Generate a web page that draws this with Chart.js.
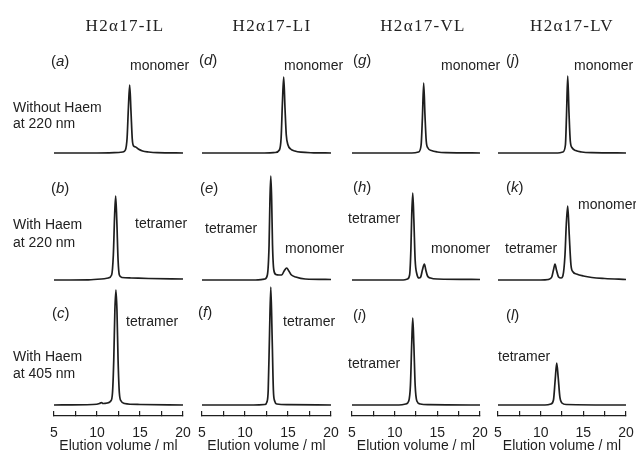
<!DOCTYPE html>
<html><head><meta charset="utf-8">
<script src="https://cdn.jsdelivr.net/npm/chart.js@4/dist/chart.umd.min.js"></script>
<style>
html,body{margin:0;padding:0;background:#fff;}
#fig{position:relative;width:636px;height:456px;overflow:hidden;background:#fff;font-family:"Liberation Sans",Arial,sans-serif;color:#222;}
#fig canvas{position:absolute;}
.t{position:absolute;white-space:nowrap;font-size:14px;line-height:16px;transform:translateY(-50%);}
.ct{font-family:"Liberation Serif",serif;font-size:17px;letter-spacing:1.3px;transform:translate(-50%,-50%);}
.pl{font-size:15px;}
</style></head><body><div id="fig"></div>
<script>
// ---------- text ----------
const columnTitles = ['H2α17-IL', 'H2α17-LI', 'H2α17-VL', 'H2α17-LV'];
const rowLabels = [['Without Haem', 'at 220 nm'], ['With Haem', 'at 220 nm'], ['With Haem', 'at 405 nm']];
const panelLetters = [['a', 'b', 'c'], ['d', 'e', 'f'], ['g', 'h', 'i'], ['j', 'k', 'l']];
const xAxisTitle = 'Elution volume / ml';
const xTickLabels = [5, 10, 15, 20];

// ---------- data: elution volume (ml) / absorbance (arb.) ----------
const volA = [5, 10, 12, 13.0, 13.3, 13.5, 13.65, 13.8, 13.95, 14.1, 14.25, 14.5, 14.8, 15.3, 16, 17, 20];
const absA = [0, 0, 0.3, 1, 3, 15, 45, 68, 42, 14, 7, 6, 4, 2, 1, 0.3, 0];
const volB = [5, 9, 10.5, 11.3, 11.7, 11.9, 12.05, 12.17, 12.3, 12.45, 12.6, 12.9, 14, 16, 20];
const absB = [0, 0.2, 1, 2, 5, 25, 65, 84, 60, 20, 5, 2.5, 2, 1.5, 1];
const volC = [5, 9.5, 10.3, 10.5, 10.7, 11.2, 11.6, 11.8, 11.95, 12.08, 12.2, 12.32, 12.45, 12.6, 12.8, 13.2, 15, 20];
const absC = [0, 0.5, 1.5, 2.5, 1.5, 2, 4, 12, 45, 95, 115, 95, 45, 12, 4, 1.5, 0.5, 0];
const volD = [5, 12, 13.5, 14.0, 14.2, 14.35, 14.5, 14.65, 14.8, 15.0, 15.3, 15.8, 16.5, 18, 20];
const absD = [0, 0, 0.5, 3, 15, 50, 76, 45, 18, 8, 4, 2, 0.8, 0.2, 0];
const volE = [5, 11, 12.3, 12.6, 12.8, 12.9, 13.0, 13.1, 13.2, 13.35, 13.6, 13.95, 14.27, 14.55, 14.85, 15.1, 15.4, 15.9, 17, 20];
const absE = [0, 0, 1, 5, 35, 80, 104, 80, 35, 10, 5.5, 5, 5, 9, 12, 9, 5, 3, 1, 0.5];
const volF = [5, 11, 12.3, 12.55, 12.7, 12.85, 13.0, 13.15, 13.3, 13.45, 13.7, 15, 20];
const absF = [0, 0, 0.5, 3, 15, 70, 118, 70, 15, 4, 1, 0.3, 0];
const volG = [5, 12, 12.8, 13.1, 13.25, 13.4, 13.55, 13.7, 13.9, 14.3, 15, 16, 20];
const absG = [0, 0, 1, 8, 35, 70, 38, 12, 5, 2.5, 1, 0.3, 0];
const volH = [5, 11, 11.5, 11.75, 11.9, 12.0, 12.12, 12.25, 12.4, 12.6, 12.85, 13.05, 13.25, 13.48, 13.65, 13.85, 14.2, 15, 20];
const absH = [0, 0, 1, 5, 30, 65, 87, 60, 20, 6, 2, 3, 10, 16, 10, 4, 2, 1, 0.5];
const volI = [5, 10.5, 11.3, 11.65, 11.85, 12.0, 12.12, 12.25, 12.4, 12.6, 13, 14, 20];
const absI = [0, 0, 1, 4, 20, 62, 87, 60, 20, 4, 1, 0.3, 0];
const volJ = [5, 12, 12.6, 12.9, 13.03, 13.17, 13.32, 13.47, 13.7, 14.1, 14.8, 16, 20];
const absJ = [0, 0, 1, 8, 38, 77, 40, 12, 5, 2.5, 1, 0.3, 0];
const volK = [5, 10, 10.9, 11.3, 11.5, 11.68, 11.85, 12.1, 12.4, 12.6, 12.85, 13.0, 13.17, 13.35, 13.55, 13.8, 14.2, 15, 16, 17.5, 20];
const absK = [0, 0, 0.5, 3, 10, 16, 10, 3, 2, 4, 25, 55, 74, 45, 15, 8, 6, 4, 2.5, 1.5, 0.5];
const volL = [5, 10.5, 11.2, 11.5, 11.7, 11.88, 12.05, 12.25, 12.5, 13, 20];
const absL = [0, 0, 1, 5, 25, 42, 28, 8, 2, 0.5, 0];

const panelData = [
  [[volA, absA], [volB, absB], [volC, absC]],
  [[volD, absD], [volE, absE], [volF, absF]],
  [[volG, absG], [volH, absH], [volI, absI]],
  [[volJ, absJ], [volK, absK], [volL, absL]]
];

// ---------- layout ----------
const fig = document.getElementById('fig');
const colLeft = [54, 202, 352, 498];
const colWidth = [129, 129, 128, 128];
const baseY = [153, 280, 405];
const axisY = 416;
const yMax = 125;
const pad = 26, padT = 3;
const ink = '#1e1e1e';

function addText(html, x, y, cls) {
  const d = document.createElement('div');
  d.className = 't ' + (cls || '');
  d.style.left = x + 'px';
  d.style.top = y + 'px';
  d.innerHTML = html;
  fig.appendChild(d);
}

function makePanel(col, row) {
  const [vol, abs] = panelData[col][row];
  const bottomRow = row === 2;
  const left = colLeft[col] - pad;
  const width = colWidth[col] + 2 * pad;
  const top = baseY[row] - yMax - padT;
  const height = bottomRow ? 456 - top : yMax + padT + 3;
  const cv = document.createElement('canvas');
  cv.width = width; cv.height = height;
  cv.style.left = left + 'px'; cv.style.top = top + 'px';
  cv.style.width = width + 'px'; cv.style.height = height + 'px';
  fig.appendChild(cv);
  const xAxis = bottomRow ? {
    type: 'linear', min: 5, max: 20, position: 'bottom',
    ticks: {
      stepSize: 2.5, autoSkip: false, maxRotation: 0, padding: 13.5, color: ink,
      font: { family: 'Liberation Sans', size: 14 },
      callback: v => (xTickLabels.includes(v) ? String(v) : '')
    },
    grid: { drawOnChartArea: false, drawTicks: true, tickLength: -5, color: ink, lineWidth: 1.2 },
    border: { display: true, color: ink, width: 1.2 },
    title: { display: true, text: xAxisTitle, color: ink, font: { family: 'Liberation Sans', size: 14 }, padding: { top: 0, bottom: 1 } },
    afterFit: s => { s.height = 456 - axisY; }
  } : { type: 'linear', min: 5, max: 20, display: false };
  new Chart(cv.getContext('2d'), {
    type: 'line',
    data: { datasets: [{
      data: vol.map((v, i) => ({ x: v, y: abs[i] })),
      borderColor: ink, borderWidth: 1.7, pointRadius: 0,
      cubicInterpolationMode: 'monotone', fill: false, clip: false
    }] },
    options: {
      responsive: false, animation: false, events: [], devicePixelRatio: 1,
      layout: { padding: { left: pad, right: pad, top: padT, bottom: bottomRow ? 0 : 3 } },
      plugins: { legend: { display: false }, tooltip: { enabled: false } },
      scales: {
        x: xAxis,
        y: { min: bottomRow ? -(axisY - baseY[2]) : 0, max: yMax, display: false }
      }
    }
  });
}

for (let c = 0; c < 4; c++) for (let r = 0; r < 3; r++) makePanel(c, r);

// column titles
const titleX = [125, 272, 423, 572];
columnTitles.forEach((t, i) => addText(t, titleX[i], 26, 'ct'));

// row labels
const rowLabelY = [[107, 123], [224, 242], [356, 373]];
rowLabels.forEach((lines, r) => lines.forEach((l, k) => addText(l, 13, rowLabelY[r][k])));

// panel letters
const letterPos = [
  [[51, 61], [51, 188], [52, 313]],
  [[199, 60], [200, 188], [198, 312]],
  [[353, 60], [353, 187], [353, 315]],
  [[506, 60], [506, 187], [506, 315]]
];
panelLetters.forEach((col, c) => col.forEach((l, r) =>
  addText('(<i>' + l + '</i>)', letterPos[c][r][0], letterPos[c][r][1], 'pl')));

// peak annotations
const annotations = [
  ['monomer', 130, 65], ['monomer', 284, 65], ['monomer', 441, 65], ['monomer', 574, 65],
  ['tetramer', 135, 223], ['tetramer', 205, 228], ['monomer', 285, 248],
  ['tetramer', 348, 218], ['monomer', 431, 248], ['tetramer', 505, 248], ['monomer', 578, 204],
  ['tetramer', 126, 321], ['tetramer', 283, 321], ['tetramer', 348, 363], ['tetramer', 498, 356]
];
annotations.forEach(a => addText(a[0], a[1], a[2]));
</script></body></html>
